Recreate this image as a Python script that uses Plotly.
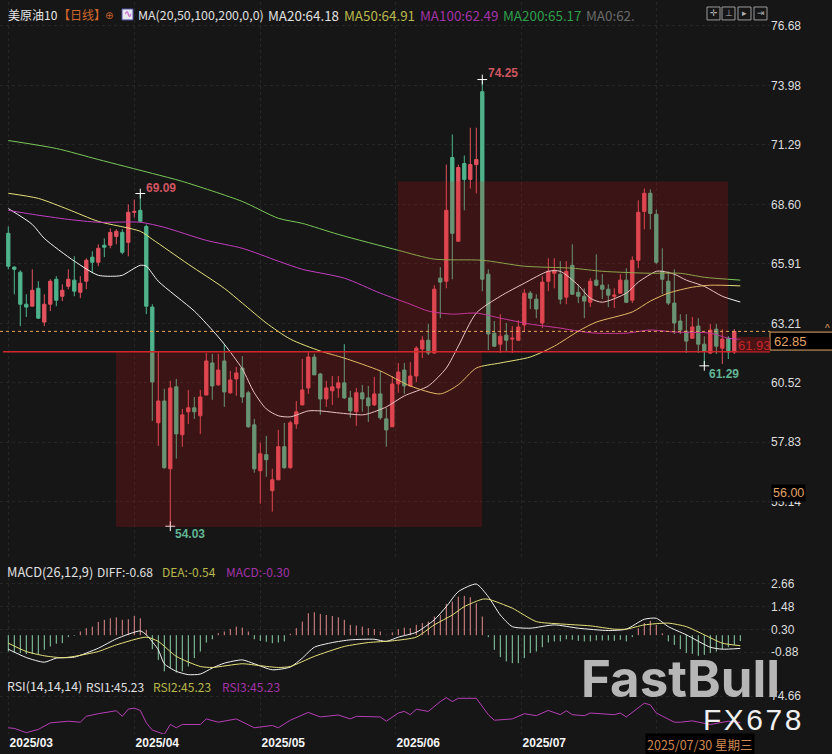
#!/usr/bin/python3
import plotly.graph_objects as go

# candles, one row per trading day
open_ = [67.29,65.76,65.53,64.08,63.99,64.80,63.27,64.08,65.21,64.44,64.89,65.17,64.62,65.12,66.21,65.98,66.75,66.75,67.15,67.33,66.88,68.24,68.33,67.60,63.95,58.71,59.70,56.63,60.34,58.17,59.21,59.39,59.03,59.97,61.42,60.43,61.51,60.07,60.70,61.19,60.07,58.62,56.54,57.27,55.64,56.13,57.63,56.68,58.66,59.52,60.29,61.69,60.92,59.79,60.16,60.29,60.52,59.84,59.21,60.07,59.84,59.52,60.02,58.89,58.53,60.47,61.10,60.38,60.83,62.05,62.45,61.87,65.26,65.12,70.72,66.93,70.45,69.73,70.40,73.70,65.44,62.77,62.27,62.68,62.50,62.45,63.14,64.58,64.31,63.23,65.12,65.48,65.44,64.40,65.84,64.62,64.44,64.17,65.17,64.94,64.76,64.44,64.58,65.17,64.26,66.07,68.28,69.10,68.15,65.57,65.12,64.13,63.32,62.86,62.54,63.09,62.27,61.87,62.95,62.09,62.54,61.92]
high = [67.60,65.80,65.62,64.53,65.66,65.12,64.53,65.21,65.35,64.98,65.66,66.25,65.35,66.16,66.48,66.79,67.06,67.51,67.47,67.47,68.60,68.82,69.09,67.69,64.08,61.92,60.25,60.61,60.70,59.34,60.20,59.88,60.20,61.87,61.83,61.83,62.27,61.06,61.24,61.73,60.16,58.89,57.81,58.12,56.63,58.39,58.71,58.80,59.70,61.60,61.96,61.83,60.97,60.61,60.83,60.83,62.27,60.16,60.29,60.43,60.38,60.79,61.06,59.39,60.83,61.42,61.42,61.46,62.18,62.63,63.18,64.94,65.76,70.40,71.76,70.40,70.81,72.07,72.07,74.25,65.66,63.32,63.63,63.23,63.09,63.36,64.76,64.67,64.53,65.35,66.16,66.16,66.03,66.03,66.79,64.98,64.80,65.26,66.34,65.44,64.98,64.80,65.44,65.71,66.25,68.78,69.32,69.28,68.37,66.61,65.57,65.66,63.63,63.63,63.50,63.45,62.63,63.18,63.18,62.95,62.63,62.95]
low = [65.66,64.53,63.09,63.50,63.99,63.41,63.09,63.77,63.99,64.22,64.76,64.44,64.35,64.76,65.48,65.80,66.21,66.61,66.79,66.34,66.25,68.00,67.79,63.63,58.80,57.67,56.63,54.03,57.09,57.63,58.66,58.89,58.21,59.97,59.75,60.38,59.43,60.02,59.93,59.61,58.49,56.45,55.05,56.27,54.69,56.13,56.63,56.63,58.44,59.52,60.02,60.88,59.07,59.43,59.52,59.84,59.79,58.94,58.57,59.21,58.75,59.48,58.85,57.63,58.53,60.07,60.02,60.34,60.56,61.64,61.78,61.83,63.45,64.80,65.21,66.93,68.33,69.32,69.10,64.67,62.00,62.14,61.87,61.96,61.87,62.41,62.86,63.86,63.45,63.00,64.67,64.80,64.08,64.08,64.53,64.13,63.45,63.95,64.89,64.31,63.95,63.91,64.58,64.13,64.13,65.71,67.47,67.47,65.89,64.53,64.04,62.73,62.73,61.87,62.54,61.87,61.29,61.83,61.83,61.37,61.60,61.83]
close = [65.80,65.66,64.08,63.95,64.71,63.45,64.08,65.12,64.26,64.71,65.21,64.67,65.03,66.07,65.98,66.61,66.66,67.33,67.38,66.43,68.24,68.28,67.83,63.99,60.56,59.70,56.68,60.29,58.21,59.07,59.39,59.21,59.88,61.51,60.38,61.10,60.11,60.65,60.97,59.88,58.53,56.63,57.31,57.04,56.13,57.63,56.68,58.71,59.21,60.20,61.69,60.88,59.79,60.29,60.34,60.52,59.84,59.25,60.07,59.79,59.48,60.02,58.94,58.39,60.47,61.01,60.38,60.83,62.09,62.45,61.87,64.76,65.08,68.33,67.29,70.27,69.73,70.40,70.63,65.21,62.73,62.18,62.63,62.45,62.54,63.05,64.58,64.35,63.86,65.08,65.57,65.62,64.31,65.57,64.53,64.44,64.22,65.12,64.94,64.76,64.49,64.49,65.17,64.17,66.07,68.24,69.10,68.19,65.98,65.21,64.13,63.23,62.91,62.41,63.05,62.27,61.96,62.91,62.18,62.50,61.92,62.85]

# moving averages, read at the days listed
ma20_days = [0,4,6,11,15,18,19,22,23,25,31,34,36,39,41,43,45,47,50,52,55,59,60,63,66,70,73,75,78,82,86,90,92,95,97,99,103,105,108,109,111,113,116,119,122]
ma20 = [68.41,67.69,67.06,66.03,65.39,65.35,65.39,65.84,65.80,65.12,63.77,62.91,62.27,61.15,60.07,59.34,59.03,58.98,59.25,59.25,59.16,59.07,59.12,59.43,59.93,60.38,61.19,62.18,63.68,64.44,65.03,65.57,65.57,64.94,64.35,64.17,64.58,65.08,65.57,65.57,65.44,65.17,64.89,64.44,64.18]
ma50_days = [0,5,10,15,22,24,30,36,39,43,47,52,56,62,67,72,75,78,82,87,91,95,98,104,107,110,114,117,122]
ma50 = [69.10,68.87,68.37,67.83,67.38,67.02,65.89,64.80,64.13,63.23,62.50,61.96,61.64,61.06,60.38,60.02,60.43,61.19,61.42,61.69,62.18,62.86,63.27,63.73,64.22,64.58,64.85,64.94,64.91]
ma100_days = [0,4,10,15,22,26,33,39,45,49,56,62,67,70,74,78,82,87,92,95,98,103,107,111,117,120,122]
ma100 = [68.33,68.15,67.92,67.79,67.79,67.56,66.97,66.61,66.03,65.66,65.26,64.58,64.08,63.77,63.63,63.68,63.45,63.18,63.00,62.86,62.77,62.77,62.91,62.82,62.77,62.54,62.49]
ma200_days = [0,8,15,24,29,39,45,49,55,65,71,79,86,94,99,107,112,116,122]
ma200 = [71.49,71.13,70.63,70.00,69.64,68.73,67.97,67.74,67.24,66.52,66.12,66.07,65.80,65.71,65.57,65.48,65.48,65.30,65.17]

# MACD histogram, one per day
macd_hist = [-0.84,-0.89,-0.92,-0.97,-0.97,-0.97,-0.75,-0.58,-0.44,-0.41,-0.10,-0.03,0.19,0.36,0.44,0.68,0.79,0.87,0.92,0.79,0.82,0.99,0.87,0.27,-0.72,-1.27,-1.86,-1.69,-1.92,-1.86,-1.61,-1.18,-0.84,-0.38,-0.21,0.10,0.19,0.32,0.44,0.39,0.19,-0.21,-0.29,-0.34,-0.41,-0.38,-0.32,0.07,0.36,0.70,1.13,1.18,1.09,1.04,0.99,0.92,0.79,0.53,0.50,0.44,0.36,0.32,0.19,0.02,0.14,0.31,0.39,0.36,0.53,0.62,0.70,0.96,1.04,1.61,1.73,1.98,2.02,1.95,1.64,0.96,-0.10,-0.75,-1.13,-1.35,-1.44,-1.44,-1.18,-0.92,-0.84,-0.62,-0.38,-0.32,-0.32,-0.21,-0.24,-0.29,-0.32,-0.32,-0.27,-0.27,-0.27,-0.29,-0.24,-0.32,-0.10,0.36,0.62,0.74,0.53,0.10,-0.32,-0.50,-0.72,-0.92,-0.96,-1.06,-1.01,-0.92,-0.84,-0.72,-0.62,-0.50,-0.30]

diff_days = [0,3,6,8,11,15,18,22,23,25,26,28,30,32,34,36,39,41,44,47,49,51,54,57,61,63,65,68,71,73,75,78,80,82,84,87,91,95,100,103,106,108,110,113,117,119,122]
diff = [-0.72,-1.15,-1.39,-1.18,-1.13,-0.67,-0.19,0.22,0.02,-0.75,-1.47,-1.86,-2.03,-2.00,-1.69,-1.44,-1.27,-1.47,-1.78,-1.64,-1.18,-0.62,-0.38,-0.24,-0.21,-0.32,-0.10,0.15,0.79,1.47,2.24,2.63,1.98,1.04,0.44,0.36,0.53,0.36,0.24,0.31,0.82,0.87,0.44,0.02,-0.62,-0.72,-0.68]
dea_days = [0,3,6,9,11,15,18,23,25,28,32,34,39,42,45,47,51,56,60,64,68,71,74,76,79,80,84,88,92,97,101,103,106,110,113,116,119,122]
dea = [-0.41,-0.84,-1.06,-1.16,-1.09,-0.84,-0.50,-0.10,-0.32,-1.09,-1.61,-1.66,-1.47,-1.57,-1.66,-1.61,-1.09,-0.58,-0.38,-0.29,-0.10,0.53,1.04,1.47,1.85,1.85,1.39,0.70,0.58,0.48,0.31,0.31,0.53,0.62,0.44,0.02,-0.41,-0.54]

rsi_days = [0,1,3,5,7,10,12,13,15,17,18,19,20,21,22,23,24,26,27,28,29,32,33,35,38,41,44,45,47,50,52,55,57,58,62,63,65,66,67,68,70,72,73,74,75,78,80,81,84,86,88,90,92,93,94,96,97,101,102,103,106,107,108,111,112,114,117,120,122]
rsi = [39.42,38.69,33.97,37.60,44.87,46.68,45.60,52.13,55.04,57.58,58.31,52.13,60.13,61.22,58.67,44.87,36.88,32.15,43.05,39.42,43.05,43.05,49.23,45.60,49.23,39.42,41.96,39.42,47.77,56.50,51.41,53.59,49.23,52.13,51.41,46.68,55.77,57.58,53.95,60.00,57.58,68.48,72.84,68.48,72.12,72.12,53.95,47.77,49.23,55.04,52.86,58.67,53.95,58.31,53.95,52.86,55.77,53.95,55.77,51.41,66.67,64.85,55.77,45.60,45.60,47.05,43.05,46.68,45.23]

price_ticks = [76.68,73.98,71.29,68.60,65.91,63.21,60.52,57.83,55.14]
macd_ticks = [2.66,1.48,0.30,-0.88]
rsi_ticks = [74.66]
month_days = [0,21,42,64.5,85.5,108]
month_labels = ['2025/03','2025/04','2025/05','2025/06','2025/07','']

# day, price, label, colour, x shift, y shift
extremes = [
    (22, 69.09, '69.09', '#cf5560', 21, 6),
    (27, 54.03, '54.03', '#62b594', 20, -8),
    (79, 74.25, '74.25', '#cf5560', 21, 7),
    (116, 61.29, '61.29', '#62b594', 20, -8),
]
# day from, day to, price low, price high
zones = [(17.95, 78.95, 54.00, 61.93), (64.95, 119.95, 61.93, 69.64)]
last_price = 62.85
support = 61.93

WIDTH, HEIGHT = 832, 754
MR, MB = 62, 20
PW, PH = WIDTH - MR, HEIGHT - MB
BG = '#161616'
LABEL_FONT = 'Noto Sans CJK SC, Noto Sans, sans-serif'
TICK_FONT = 'Liberation Sans, Arial, sans-serif'
RED, GREEN = '#e4525f', '#4fb48c'


def px(x):
    return x / PW


def py(y):
    return 1 - y / PH


def label(x, y, text, color, size=12, font=LABEL_FONT, anchor='left', **kw):
    return dict(x=px(x), y=py(y), xref='paper', yref='paper', text=text, showarrow=False,
                xanchor=anchor, yanchor='middle', font=dict(color=color, size=size, family=font), **kw)


def stems(days, vals):
    xs, ys = [], []
    for d, v in zip(days, vals):
        xs += [d, d, None]
        ys += [0, v, None]
    return xs, ys


fig = go.Figure()

fig.add_trace(go.Candlestick(
    x=list(range(len(close))), open=open_, high=high, low=low, close=close,
    increasing=dict(line=dict(color=RED, width=1), fillcolor=RED),
    decreasing=dict(line=dict(color=GREEN, width=1), fillcolor=GREEN),
    whiskerwidth=0, hoverinfo='skip', name='美原油10'))

for days, vals, color in [(ma20_days, ma20, '#f2f2f2'), (ma50_days, ma50, '#e6e27a'),
                          (ma100_days, ma100, '#c23fc0'), (ma200_days, ma200, '#7cc85a')]:
    fig.add_trace(go.Scatter(x=days, y=vals, mode='lines',
                             line=dict(color=color, width=1, shape='spline', smoothing=0.7), hoverinfo='skip'))

fig.add_trace(go.Scatter(
    x=[e[0] for e in extremes], y=[e[1] for e in extremes], mode='markers',
    marker=dict(symbol='cross-thin', size=7, line=dict(color='white', width=1)), hoverinfo='skip'))

hist_days = list(range(len(macd_hist)))
up_x, up_y = stems([d for d, v in zip(hist_days, macd_hist) if v > 0], [v for v in macd_hist if v > 0])
down_x, down_y = stems([d for d, v in zip(hist_days, macd_hist) if v <= 0], [v for v in macd_hist if v <= 0])
fig.add_trace(go.Scatter(x=up_x, y=up_y, mode='lines', yaxis='y2',
                         line=dict(color='#e58a8a', width=1), hoverinfo='skip'))
fig.add_trace(go.Scatter(x=down_x, y=down_y, mode='lines', yaxis='y2',
                         line=dict(color='#8fd2ac', width=1), hoverinfo='skip'))
fig.add_trace(go.Scatter(x=diff_days, y=diff, mode='lines', yaxis='y2',
                         line=dict(color='#f2f2f2', width=1, shape='spline', smoothing=0.6), hoverinfo='skip'))
fig.add_trace(go.Scatter(x=dea_days, y=dea, mode='lines', yaxis='y2',
                         line=dict(color='#e6e27a', width=1, shape='spline', smoothing=0.6), hoverinfo='skip'))
fig.add_trace(go.Scatter(x=rsi_days, y=rsi, mode='lines', yaxis='y3',
                         line=dict(color='#b53fb5', width=1), hoverinfo='skip'))

shapes = []
for d0, d1, p0, p1 in zones:
    shapes.append(dict(type='rect', xref='x', yref='y', x0=d0, x1=d1, y0=p0, y1=p1,
                       fillcolor='rgba(212,22,22,0.2)', line=dict(width=0), layer='above'))
shapes.append(dict(type='line', xref='paper', yref='y', x0=px(3), x1=1, y0=support, y1=support,
                   line=dict(color='#d0262e', width=1.5)))
shapes.append(dict(type='line', xref='paper', yref='y', x0=0, x1=1, y0=last_price, y1=last_price,
                   line=dict(color='#e8a257', width=1, dash='3px,3px')))
# price flags on the right
shapes.append(dict(type='rect', xref='paper', yref='paper', x0=1, x1=px(833), y0=py(331), y1=py(349),
                   fillcolor='black', line=dict(color='#e3a566', width=1)))
shapes.append(dict(type='rect', xref='paper', yref='paper', x0=px(737), x1=1, y0=py(336), y1=py(351),
                   fillcolor='rgba(120,20,20,0.55)', line=dict(width=0)))
# toolbar buttons, top right
for x0 in (707, 722, 738, 754):
    shapes.append(dict(type='rect', xref='paper', yref='paper', x0=px(x0), x1=px(x0 + 13), y0=py(5), y1=py(18),
                       line=dict(color='#9a9a9a', width=1), fillcolor='rgba(0,0,0,0)'))
# the little MA icon in the header
shapes.append(dict(type='rect', xref='paper', yref='paper', x0=px(122), x1=px(133), y0=py(7), y1=py(18),
                   fillcolor='#e8e8f0', line=dict(color='#5050a0', width=1)))

annotations = [
    label(6, 13, '美原油10', '#e6e6e6'),
    label(56, 13, '【日线】', '#d0682c'),
    label(109, 14, '⊕', '#c8602c', size=10, anchor='center', font='DejaVu Sans'),
    label(127.5, 12, '∿', '#c23fc0', size=10, anchor='center', font='DejaVu Sans'),
    label(136, 13, 'MA(20,50,100,200,0,0)', '#e0e0e0', size=12.4),
    label(266, 13, 'MA20:64.18', '#e0e0e0', size=13.4),
    label(342, 13, 'MA50:64.91', '#b9b84c', size=13.4),
    label(418, 13, 'MA100:62.49', '#a233a6', size=13.4),
    label(501, 13, 'MA200:65.17', '#2f9f4c', size=13.4),
    label(584, 13, 'MA0:62.', '#6a6a6a', size=13.4),
    label(5, 571, 'MACD(26,12,9)', '#e0e0e0', size=12.8),
    label(95, 571, 'DIFF:-0.68', '#e0e0e0'),
    label(160, 571, 'DEA:-0.54', '#b9b84c'),
    label(224, 571, 'MACD:-0.30', '#a233a6'),
    label(5, 686, 'RSI(14,14,14)', '#e0e0e0', size=12.4),
    label(84, 686, 'RSI1:45.23', '#e0e0e0'),
    label(151, 686, 'RSI2:45.23', '#b9b84c'),
    label(220, 686, 'RSI3:45.23', '#a233a6'),
    label(736, 344, '61.93', '#c4262c', size=13, font=TICK_FONT),
    label(772, 340, '62.85', '#e0a468', size=13, font=TICK_FONT),
    label(771, 492, '56.00', '#e0a468', size=12.5, font=TICK_FONT, bgcolor='black', borderpad=1),
    label(828, 327, '^', '#e3a566', size=10, anchor='center', font=TICK_FONT),
    label(645, 745, '2025/07/30 星期三', '#cf8a52', size=12.5, bgcolor='black'),
    label(579, 678, '<b>FastBull</b>', '#b6b6b6', size=51, font='Inter, Roboto, sans-serif'),
    label(701, 719, 'F\u200aX\u200a6\u200a7\u200a8', '#f0f0f0', size=30, font='Liberation Sans, sans-serif'),
]
for x0, glyph in zip((713.5, 728.5, 744.5, 760.5), ('✛', '⊥', '▸', '⇥')):
    annotations.append(label(x0, 11.5, glyph, '#b0b0b0', size=9, anchor='center', font='DejaVu Sans'))
for day, price, text, color, xs, ys in extremes:
    annotations.append(dict(x=day, y=price, xref='x', yref='y', text='<b>%s</b>' % text, showarrow=False,
                            xshift=xs, yshift=ys, font=dict(color=color, size=12, family=TICK_FONT)))


def dom(top, bottom):
    return [1 - bottom / PH, 1 - top / PH]


axis_common = dict(side='right', anchor='x', showline=False, zeroline=False, ticks='', fixedrange=True,
                   tickfont=dict(color='#dedede', size=12, family=TICK_FONT),
                   showgrid=True, gridcolor='#262626', griddash='dot', gridwidth=1)

fig.update_layout(
    width=WIDTH, height=HEIGHT, autosize=False,
    margin=dict(l=0, r=MR, t=0, b=MB),
    paper_bgcolor=BG, plot_bgcolor=BG, showlegend=False, boxgap=0.22,
    xaxis=dict(range=[-1.383, 126.95], tickvals=month_days, ticktext=month_labels, ticklabelshift=23,
               rangeslider=dict(visible=False), showline=False, zeroline=False, ticks='', fixedrange=True,
               anchor='y3', showgrid=True, gridcolor='#262626', griddash='dot', gridwidth=1,
               tickfont=dict(color='#f4f4f4', size=12, family=TICK_FONT, weight='bold')),
    yaxis=dict(domain=dom(0, 558), range=[52.57, 77.76], tickvals=price_ticks,
               ticktext=['%.2f' % v for v in price_ticks], **axis_common),
    yaxis2=dict(domain=dom(578, 678), range=[-2.21, 2.92], tickvals=macd_ticks,
                ticktext=['%.2f' % v for v in macd_ticks], **axis_common),
    yaxis3=dict(domain=dom(690, 734), range=[32.5, 81.2], tickvals=rsi_ticks,
                ticktext=['%.2f' % v for v in rsi_ticks], **axis_common),
    shapes=shapes, annotations=annotations,
)

# page margin off, the chart has to sit at the window's corner
fig.write_html("out.html", config=dict(displayModeBar=False),
               post_script="document.body.style.margin='0';document.body.style.background='#161616';")
